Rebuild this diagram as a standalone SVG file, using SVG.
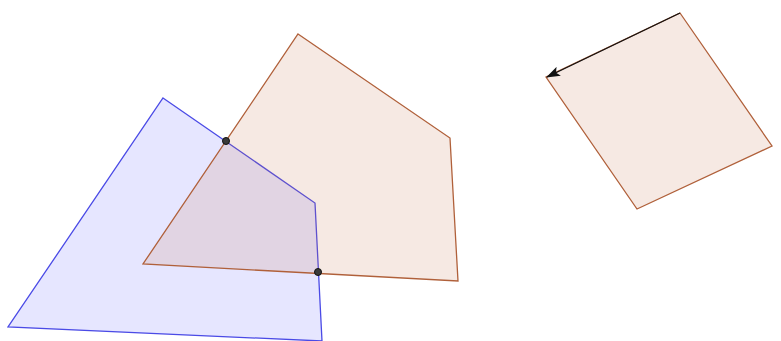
<svg xmlns="http://www.w3.org/2000/svg" width="781" height="341" viewBox="0 0 781 341">
<style>
.blue{fill:#5050ff;fill-opacity:0.14;stroke:#4a4ae6;stroke-width:1.3}
.brown{fill:#c87850;fill-opacity:0.16;stroke:#b0603a;stroke-width:1.3}
.pt{fill:#3a3a3a;stroke:#111;stroke-width:1}
.vec{stroke:#111;stroke-width:1.3;fill:none}
</style>
<defs>
<marker id="ah" markerWidth="14" markerHeight="10" refX="13" refY="5" orient="auto" markerUnits="userSpaceOnUse">
<path d="M0,0 L14,5 L0,10 L3,5 Z" fill="#111"/>
</marker>
</defs>
<rect width="781" height="341" fill="#fff"/>
<g id="polyBlue"><polygon class="blue" points="163,98 315,203 322,341 8,327"/></g>
<g id="polyBrown"><polygon class="brown" points="298,34 450,138 458,281 143,264"/></g>
<g id="square"><polygon class="brown" points="680,13 772,146 637,209 546,77"/></g>
<g id="connectors"><line class="vec" x1="680" y1="13" x2="547" y2="77" marker-end="url(#ah)"/></g>
<g id="points">
<circle class="pt" cx="226" cy="141" r="3.5"/>
<circle class="pt" cx="318" cy="272" r="3.5"/>
</g>
</svg>
